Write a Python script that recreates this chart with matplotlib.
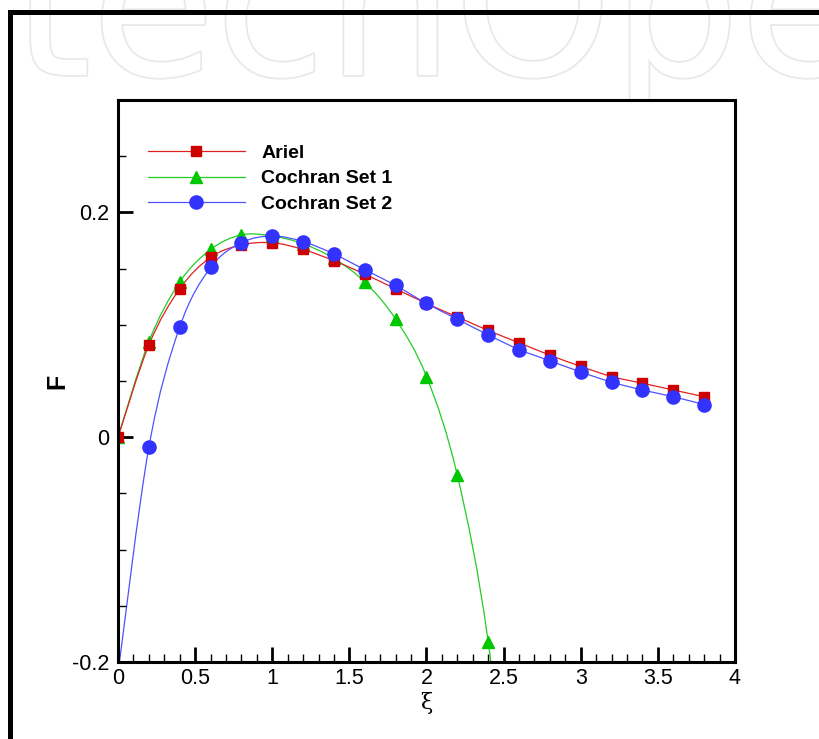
import numpy as np
import matplotlib
matplotlib.use("Agg")
import matplotlib.pyplot as plt
from matplotlib import font_manager
from matplotlib.path import Path
from matplotlib.patches import PathPatch, Rectangle
from matplotlib.lines import Line2D
from matplotlib.ticker import MultipleLocator
import matplotlib.patheffects as pe

# data
xi = [0.0, 0.2, 0.4, 0.6, 0.8, 1.0, 1.2, 1.4, 1.6, 1.8,
      2.0, 2.2, 2.4, 2.6, 2.8, 3.0, 3.2, 3.4, 3.6, 3.8]
ariel = [0.0, 0.082, 0.132, 0.160, 0.171, 0.173, 0.167, 0.157, 0.145, 0.132,
         0.119, 0.107, 0.095, 0.084, 0.073, 0.063, 0.054, 0.048, 0.042, 0.036]
xi_set1 = [0.0, 0.2, 0.4, 0.6, 0.8, 1.0, 1.2, 1.4, 1.6, 1.8, 2.0, 2.2, 2.4, 2.6]
cochran_set1 = [0.0, 0.085, 0.138, 0.167, 0.180, 0.179, 0.172, 0.159, 0.138,
                0.105, 0.054, -0.034, -0.182, -0.43]
cochran_set2 = [-0.21, -0.009, 0.098, 0.151, 0.173, 0.179, 0.174, 0.163, 0.149, 0.135,
                0.119, 0.105, 0.091, 0.078, 0.068, 0.058, 0.049, 0.042, 0.036, 0.029]

x_ticks = [0, 0.5, 1, 1.5, 2, 2.5, 3, 3.5, 4]
x_tick_labels = ["0", "0.5", "1", "1.5", "2", "2.5", "3", "3.5", "4"]
y_ticks = [-0.2, 0, 0.2]
y_tick_labels = ["-0.2", "0", "0.2"]

names = [f.name for f in font_manager.fontManager.ttflist]
TICK_FONT = "Liberation Sans Narrow" if "Liberation Sans Narrow" in names else "Liberation Sans"
plt.rcParams["font.family"] = ["Liberation Sans", "DejaVu Sans"]


def smooth_path(x, y):
    # Catmull-Rom curve through the points, as cubic Bezier segments
    pts = np.column_stack([x, y])
    ext = np.vstack([pts[0], pts, pts[-1]])
    verts = [pts[0]]
    codes = [Path.MOVETO]
    for i in range(len(pts) - 1):
        p0, p1, p2, p3 = ext[i], ext[i + 1], ext[i + 2], ext[i + 3]
        verts += [p1 + (p2 - p0) / 6.0, p2 - (p3 - p1) / 6.0, p2]
        codes += [Path.CURVE4] * 3
    return Path(verts, codes)


SERIES = [
    ("Cochran Set 1", xi_set1, cochran_set1, "#22cc22", "#00c800", "^", 8.5),
    ("Ariel", xi, ariel, "#e02020", "#cc0000", "s", 7.5),
    ("Cochran Set 2", xi, cochran_set2, "#5050ff", "#3333ff", "o", 9.5),
]

fig = plt.figure(figsize=(8.2, 7.39), dpi=100)
ax = fig.add_axes([118 / 820, 1 - 662 / 739, 617 / 820, 562 / 739])

handles = {}
for name, xs, ys, lc, mc, mk, ms in SERIES:
    ax.add_patch(PathPatch(smooth_path(xs, ys), facecolor="none", edgecolor=lc, lw=0.9))
    ax.plot(xs, ys, linestyle="none", marker=mk, ms=ms, mfc=mc, mec=mc)
    handles[name] = Line2D([], [], color=lc, lw=0.9, marker=mk, ms=ms, mfc=mc, mec=mc)

ax.set_xlim(0, 4)
ax.set_ylim(-0.2, 0.3)

ax.set_xticks(x_ticks)
ax.set_xticklabels(x_tick_labels, fontfamily=TICK_FONT, fontsize=15.5)
ax.set_yticks(y_ticks)
ax.set_yticklabels(y_tick_labels, fontfamily=TICK_FONT, fontsize=15.5)
ax.xaxis.set_minor_locator(MultipleLocator(0.1))
ax.yaxis.set_minor_locator(MultipleLocator(0.05))
ax.tick_params(which="major", direction="in", length=11, width=2.0, pad=4)
ax.tick_params(which="minor", direction="in", length=6, width=1.0)
ax.tick_params(axis="y", which="major", pad=6)
for sp in ax.spines.values():
    sp.set_linewidth(2.2)

ax.set_xlabel("ξ", fontfamily="DejaVu Serif", fontsize=16, va="top")
ax.xaxis.set_label_coords(0.5, -0.053)
ax.set_ylabel("F", fontdict={"family": "Liberation Sans", "size": 18, "weight": "bold"})
ax.yaxis.set_label_coords(-0.078, 0.5)

order = ["Ariel", "Cochran Set 1", "Cochran Set 2"]
ax.legend([handles[n] for n in order], order, loc="upper left",
          bbox_to_anchor=(0.048, 0.921), frameon=False, borderpad=0, borderaxespad=0,
          handlelength=5.0, handletextpad=0.85, labelspacing=0.4, numpoints=1,
          prop={"weight": "bold", "size": 14})

# faint publisher watermark behind the axes
fig.text(-0.213, 1 - 75 / 739, "IntechOpen", fontsize=145, color="white",
         fontfamily="DejaVu Sans", va="baseline", ha="left", zorder=-1,
         path_effects=[pe.withStroke(linewidth=2.5, foreground="#e8e8e8")])

# black frame around the figure, cropped on the right and bottom
fig.patches.append(Rectangle((10 / 820, -0.1), 1.2, 1 - 12 / 739 + 0.1,
                             transform=fig.transFigure, fill=False,
                             edgecolor="black", lw=3.6, zorder=5))

fig.savefig("out.png", dpi=100)
